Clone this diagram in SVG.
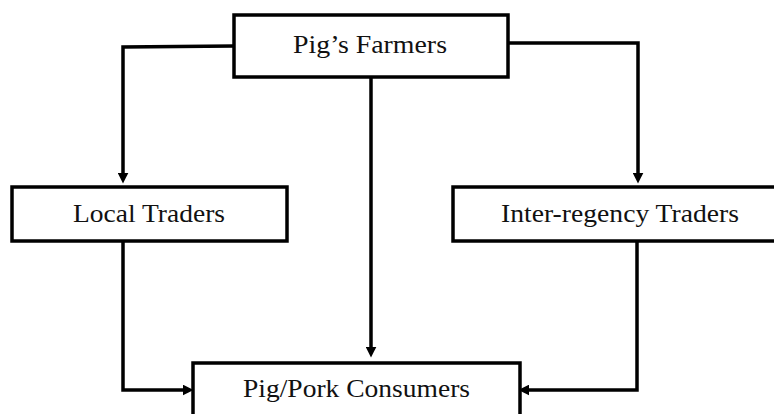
<svg xmlns="http://www.w3.org/2000/svg" width="774" height="414" viewBox="0 0 774 414">
<style>
.box{fill:#fff;stroke:#000;stroke-width:3.5}
.lbl{font-family:"Liberation Serif","Times New Roman",serif;font-size:25.5px;fill:#111;text-anchor:middle}
.conn{fill:none;stroke:#000;stroke-width:3.5;stroke-linejoin:miter}
</style>
<defs>
<marker id="arr" viewBox="0 0 10 10" refX="4" refY="5" markerWidth="11" markerHeight="11" markerUnits="userSpaceOnUse" orient="auto">
<path d="M0,0 L10,5 L0,10 z" fill="#000"/>
</marker>
</defs>
<rect width="774" height="414" fill="#fff"/>
<g id="connectors">
<path class="conn" d="M234,46 L123,47 L123,177" marker-end="url(#arr)"/>
<path class="conn" d="M371,77 L371,351" marker-end="url(#arr)"/>
<path class="conn" d="M508,43 L638,43 L638,177" marker-end="url(#arr)"/>
<path class="conn" d="M123,241 L123,390 L187,390" marker-end="url(#arr)"/>
<path class="conn" d="M637,241 L637,390 L525,390" marker-end="url(#arr)"/>
</g>
<g id="farmers">
<rect class="box" x="234" y="15" width="274" height="62"/>
<text class="lbl" x="370" y="53" textLength="154" lengthAdjust="spacingAndGlyphs">Pig’s Farmers</text>
</g>
<g id="local">
<rect class="box" x="12" y="187" width="275" height="54"/>
<text class="lbl" x="149" y="222" textLength="152" lengthAdjust="spacingAndGlyphs">Local Traders</text>
</g>
<g id="interregency">
<rect class="box" x="453" y="187" width="325" height="54"/>
<text class="lbl" x="620" y="222" textLength="238" lengthAdjust="spacingAndGlyphs">Inter-regency Traders</text>
</g>
<g id="consumers">
<rect class="box" x="193" y="363" width="327" height="60"/>
<text class="lbl" x="356.5" y="397" textLength="227" lengthAdjust="spacingAndGlyphs">Pig/Pork Consumers</text>
</g>
</svg>
